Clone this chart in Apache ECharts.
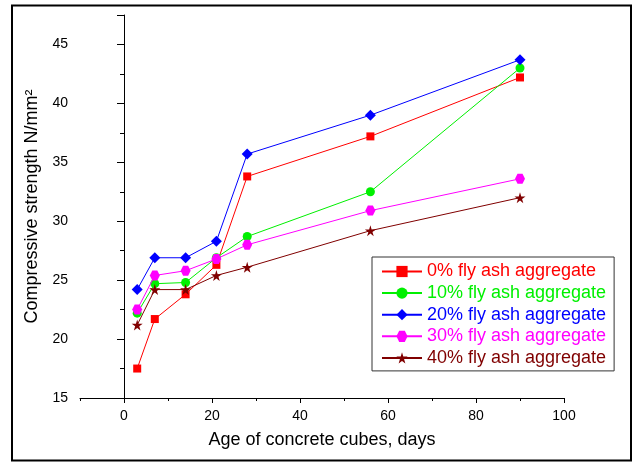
<!DOCTYPE html>
<html>
<head>
<meta charset="utf-8">
<script src="https://cdn.jsdelivr.net/npm/echarts@6/dist/echarts.min.js"></script>
<style>html,body{margin:0;padding:0;background:#fff;}#c{width:633px;height:463px;}</style>
</head>
<body>
<div id="c"></div>
<script>
var days = [3, 7, 14, 21, 28, 56, 90];
var seriesNames = ['0% fly ash aggregate', '10% fly ash aggregate', '20% fly ash aggregate', '30% fly ash aggregate', '40% fly ash aggregate'];
var ash0 = [17.5, 21.7, 23.8, 26.3, 33.8, 37.2, 42.2];
var ash10 = [22.2, 24.7, 24.8, 26.9, 28.7, 32.5, 43.0];
var ash20 = [24.2, 26.9, 26.9, 28.3, 35.7, 39.0, 43.7];
var ash30 = [22.5, 25.4, 25.8, 26.8, 28.0, 30.9, 33.6];
var ash40 = [21.2, 24.2, 24.2, 25.4, 26.1, 29.2, 32.0];
var xTicks = [0, 20, 40, 60, 80, 100];
var yTicks = [15, 20, 25, 30, 35, 40, 45];

var colors = ['#ff0000', '#00f000', '#0000ff', '#ff00ff', '#800000'];
var symbols = ['rect', 'circle', 'diamond',
  'path://M25,0 L75,0 L100,50 L75,100 L25,100 L0,50 Z',
  'path://M50,0 L61,35 L98,35 L68,57 L79,91 L50,70 L21,91 L32,57 L2,35 L39,35 Z'];
var sizes = [8, 9, 11, 10, 11];
var allData = [ash0, ash10, ash20, ash30, ash40];
var FONT = 'Liberation Sans, Arial, sans-serif';

function pairs(arr) { return days.map(function (d, i) { return [d, arr[i]]; }); }

var chart = echarts.init(document.getElementById('c'), null, {renderer: 'canvas'});
chart.setOption({
  animation: false,
  backgroundColor: '#fff',
  grid: [
    {left: 80, right: 69, top: 15, bottom: 65},
    {left: 124, right: 69, top: 15, bottom: 65}
  ],
  xAxis: [
    {
      type: 'value', gridIndex: 0, min: -10, max: 100, interval: 10,
      axisLine: {show: true, lineStyle: {color: '#000', width: 1}},
      axisTick: {show: true, length: 3, lineStyle: {color: '#000'}},
      axisLabel: {show: false},
      splitLine: {show: false},
      name: 'Age of concrete cubes, days', nameLocation: 'middle', nameGap: 33,
      nameTextStyle: {fontFamily: FONT, fontSize: 18, color: '#000'}
    },
    {
      type: 'value', gridIndex: 1, min: xTicks[0], max: xTicks[xTicks.length - 1], interval: 20,
      axisLine: {show: false},
      axisTick: {show: true, length: 5, lineStyle: {color: '#000'}},
      axisLabel: {fontFamily: FONT, fontSize: 14, color: '#000', margin: 11},
      splitLine: {show: false}
    }
  ],
  yAxis: [
    {
      type: 'value', gridIndex: 0, min: yTicks[0], max: 47.5, interval: 5,
      axisLine: {show: true, lineStyle: {color: '#000', width: 1}},
      axisTick: {show: true, length: 7, lineStyle: {color: '#000'}},
      minorTick: {show: true, splitNumber: 2, length: 4, lineStyle: {color: '#000'}},
      axisLabel: {fontFamily: FONT, fontSize: 14, color: '#000', margin: 12, showMaxLabel: false,
        formatter: function (v) { return yTicks.indexOf(v) >= 0 ? String(v) : ''; }},
      splitLine: {show: false},
      name: 'Compressive strength N/mm²', nameLocation: 'middle', nameGap: 32,
      nameTextStyle: {fontFamily: FONT, fontSize: 18, color: '#000'}
    },
    {
      type: 'value', gridIndex: 1, min: yTicks[0], max: 47.5, show: false
    }
  ],
  legend: {
    orient: 'vertical', left: 372, top: 257, width: 245,
    padding: [5.5, 8, 4, 9], itemGap: 3.6, itemWidth: 40, itemHeight: 14,
    borderColor: '#333', borderWidth: 1, backgroundColor: '#fff',
    textStyle: {fontFamily: FONT, fontSize: 18},
    data: seriesNames.map(function (n, i) { return {name: n, textStyle: {color: colors[i]}}; })
  },
  series: allData.map(function (arr, i) {
    return {
      name: seriesNames[i], type: 'line', xAxisIndex: 0, yAxisIndex: 0,
      data: pairs(arr), symbol: symbols[i], symbolSize: sizes[i], showAllSymbol: true,
      lineStyle: {color: colors[i], width: 1},
      itemStyle: {color: colors[i]},
      z: 2 + i
    };
  }),
  graphic: [{
    type: 'rect', shape: {x: 12, y: 5.5, width: 619, height: 455},
    style: {fill: 'none', stroke: '#000', lineWidth: 2}, z: 100
  }]
});
</script>
</body>
</html>
